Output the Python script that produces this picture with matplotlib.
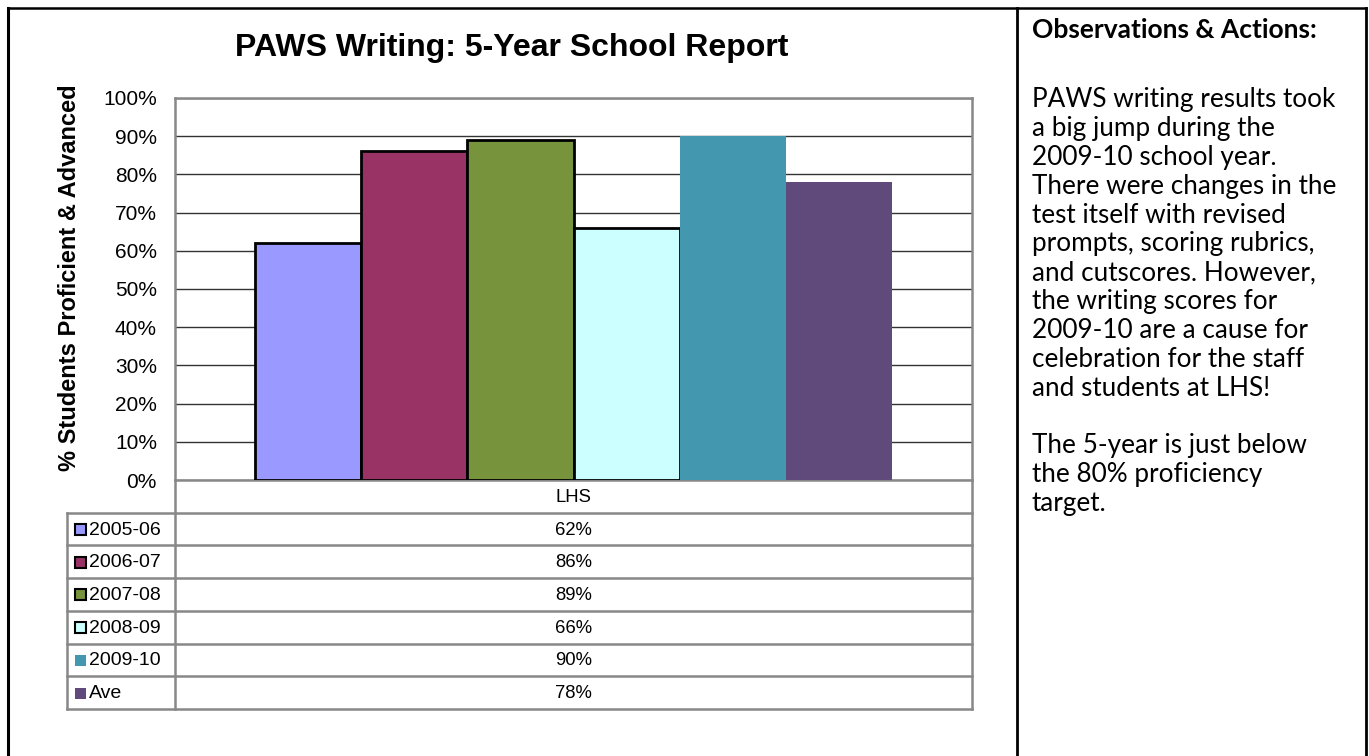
import numpy as np
import matplotlib
matplotlib.use("Agg")
from matplotlib import pyplot as plt
from matplotlib.patches import Rectangle

# data
title = "PAWS Writing: 5-Year School Report"
ylabel = "% Students Proficient & Advanced"
group = "LHS"
years = ["2005-06", "2006-07", "2007-08", "2008-09", "2009-10", "Ave"]
values = [62, 86, 89, 66, 90, 78]
colors = ["#9999FF", "#993366", "#77933C", "#CCFFFF", "#4397AF", "#604A7B"]
outlined = [True, True, True, True, False, False]
yticks = list(range(0, 101, 10))
notes_head = "Observations & Actions:"
notes = [
    "PAWS writing results took",
    "a big jump during the",
    "2009-10 school year.",
    "There were changes in the",
    "test itself with revised",
    "prompts, scoring rubrics,",
    "and cutscores. However,",
    "the writing scores for",
    "2009-10 are a cause for",
    "celebration for the staff",
    "and students at LHS!",
    "",
    "The 5-year is just below",
    "the 80% proficiency",
    "target.",
]

W, H = 1369, 756
fig = plt.figure(figsize=(W / 100, H / 100), dpi=100)

# background axes in pixel coordinates for frame, table and notes
bg = fig.add_axes([0, 0, 1, 1])
bg.set_xlim(0, W)
bg.set_ylim(H, 0)
bg.axis("off")

# page frame
bg.plot([8, 1366], [8, 8], color="black", lw=1.8)
bg.plot([8, 8], [8, H], color="black", lw=2.2)
bg.plot([1017, 1017], [8, H], color="black", lw=2.0)
bg.plot([1366, 1366], [8, H], color="black", lw=2.0)

# chart
px_l, px_r, px_t, px_b = 175, 972, 98, 480
ax = fig.add_axes([px_l / W, 1 - px_b / H, (px_r - px_l) / W, (px_b - px_t) / H])
n = len(values)
bw = 0.8 / n
xs = (np.arange(n) - (n - 1) / 2) * bw
for x, v, c, o in zip(xs, values, colors, outlined):
    ax.bar(x, v, width=bw, color=c, edgecolor="black" if o else c,
           linewidth=2.0 if o else 0, zorder=3)
ax.set_xlim(-0.5, 0.5)
ax.set_ylim(0, 100)
ax.set_yticks(yticks)
ax.set_yticklabels([f"{t}%" for t in yticks], fontsize=15, family="Liberation Sans")
ax.set_xticks([])
ax.tick_params(axis="y", length=0, pad=13)
ax.grid(axis="y", color="#333333", lw=1.0, zorder=0)
for s in ax.spines.values():
    s.set_color("#888888")
    s.set_linewidth(1.8)

fig.text(512 / W, 1 - 48 / H, title, ha="center", va="center",
         fontsize=23, fontweight="bold", family="Liberation Sans")
fig.text(70 / W, 1 - 278 / H, ylabel, ha="center", va="center", rotation=90,
         fontsize=17, fontweight="bold", family="Liberation Sans")

# data table
t_l, t_c, t_r = 67, 175, 972
row_h = 32.7
rows_y = [480 + row_h * (i + 1) for i in range(n + 1)]
grid = dict(color="#888888", lw=1.8)
bg.text((t_c + t_r) / 2, 480 + row_h / 2 + 1, group, ha="center", va="center",
        fontsize=13.3, family="Liberation Sans")
for y in rows_y:
    bg.plot([t_l, t_r], [y, y], **grid)
bg.plot([t_l, t_l], [rows_y[0], rows_y[-1]], **grid)
bg.plot([t_c, t_c], [px_b, rows_y[-1]], **grid)
bg.plot([t_r, t_r], [px_b, rows_y[-1]], **grid)
for i, (yr, v, c, o) in enumerate(zip(years, values, colors, outlined)):
    yc = rows_y[i] + row_h / 2 + 1
    bg.add_patch(Rectangle((75, yc - 6), 11, 11, facecolor=c,
                           edgecolor="black" if o else c, lw=1.5 if o else 0))
    bg.text(89, yc, yr, ha="left", va="center", fontsize=14, family="Liberation Sans")
    bg.text((t_c + t_r) / 2, yc, f"{v}%", ha="center", va="center",
            fontsize=13.3, family="Liberation Sans")

# notes column
bg.text(1032, 30, notes_head, ha="left", va="center", fontsize=19,
        fontweight="bold", family="Lato")
for i, line in enumerate(notes):
    bg.text(1032, 100 + 28.8 * i, line, ha="left", va="center", fontsize=18.8,
            family="Lato")

fig.savefig("out.png", dpi=100)
